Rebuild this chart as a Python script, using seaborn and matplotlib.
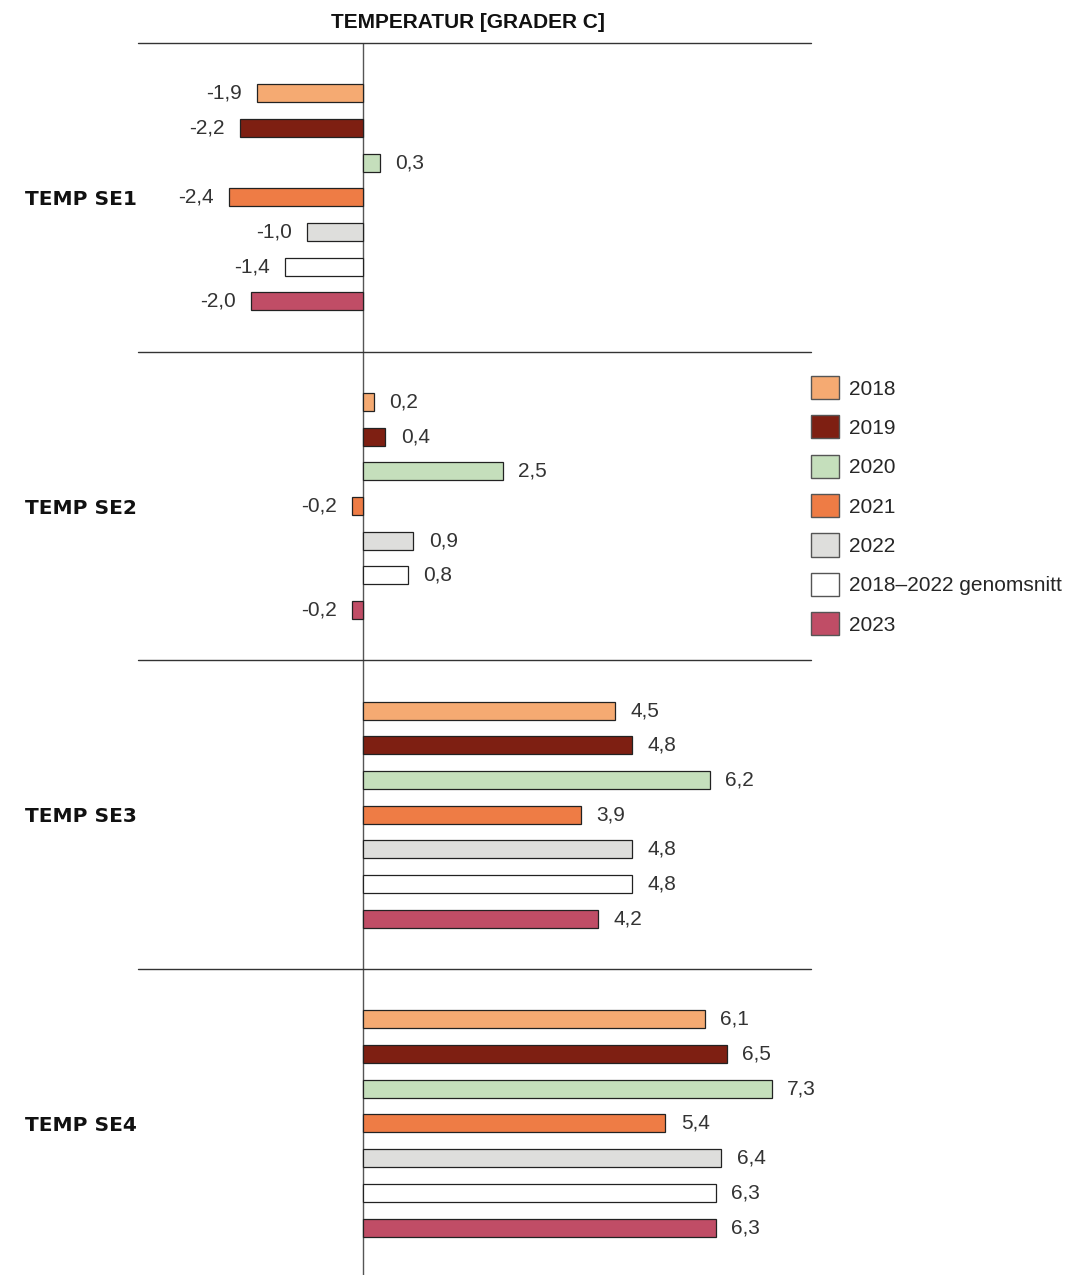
import matplotlib
matplotlib.use("Agg")
import matplotlib.pyplot as plt
from matplotlib.patches import Patch
import seaborn as sns
import pandas as pd

# data
regions = ["TEMP SE1", "TEMP SE2", "TEMP SE3", "TEMP SE4"]
series = ["2018", "2019", "2020", "2021", "2022", "2018–2022 genomsnitt", "2023"]
se1 = [-1.9, -2.2, 0.3, -2.4, -1.0, -1.4, -2.0]
se2 = [0.2, 0.4, 2.5, -0.2, 0.9, 0.8, -0.2]
se3 = [4.5, 4.8, 6.2, 3.9, 4.8, 4.8, 4.2]
se4 = [6.1, 6.5, 7.3, 5.4, 6.4, 6.3, 6.3]
colors = ["#F5AA72", "#7E1F12", "#C5DFBC", "#EE7C45", "#DEDEDC", "#FFFFFF", "#C04D66"]

rows = []
for reg, vals in zip(regions, [se1, se2, se3, se4]):
    for s, v in zip(series, vals):
        rows.append({"region": reg, "series": s, "temp": v})
df = pd.DataFrame(rows)

sns.set_style("white")
plt.rcParams["font.family"] = ["Liberation Sans", "DejaVu Sans"]

fig = plt.figure(figsize=(10.68, 12.75), dpi=100)
ax = fig.add_axes([138 / 1068, 0, (811 - 138) / 1068, 1232 / 1275])

sns.barplot(data=df, x="temp", y="region", hue="series", order=regions,
            hue_order=series, palette=colors, saturation=1, orient="h",
            width=0.787, gap=0.48, edgecolor="#222222", linewidth=0.9,
            errorbar=None, legend=False, ax=ax)

for cont in ax.containers:
    labels = [f"{v:.1f}".replace(".", ",") for v in cont.datavalues]
    ax.bar_label(cont, labels=labels, padding=11, fontsize=15, color="#333333")

ax.set_xlim(-4.02, 8.0)
ax.set_ylim(-0.5 + 1232 / 308.7, -0.5)
sns.despine(ax=ax, left=True, bottom=True)
ax.set_xticks([])
ax.set_xlabel("")
ax.set_ylabel("")
ax.tick_params(axis="y", length=0, pad=1)
for lab in ax.get_yticklabels():
    lab.set_fontfamily("DejaVu Sans")
    lab.set_fontweight("bold")
    lab.set_fontsize(14.5)
    lab.set_color("#111111")

ax.axvline(0, color="#555555", lw=1, zorder=0)
for y in [-0.5, 0.5, 1.5, 2.5]:
    ax.axhline(y, color="#333333", lw=1, clip_on=False)

fig.text(468 / 1068, 1 - 22 / 1275, "TEMPERATUR [GRADER C]", ha="center",
         va="center", fontsize=15, fontweight="bold", color="#111111")

handles = [Patch(facecolor=c, edgecolor="#555555", linewidth=1) for c in colors]
fig.legend(handles, series, loc="upper left",
           bbox_to_anchor=(811 / 1068, 1 - 376 / 1275), frameon=False,
           borderpad=0, borderaxespad=0, handlelength=1.33, handleheight=1.33,
           handletextpad=0.48, labelspacing=0.78, fontsize=15)

fig.savefig("out.png", dpi=100)
